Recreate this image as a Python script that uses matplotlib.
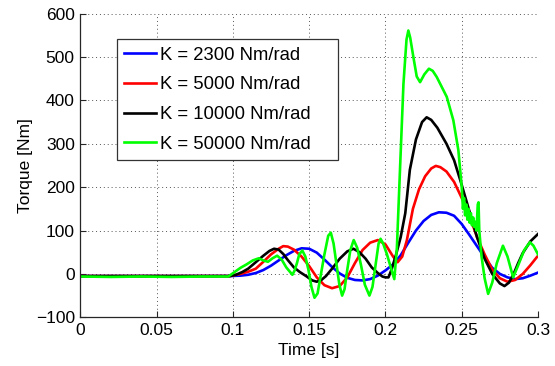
import matplotlib
matplotlib.use("Agg")
import matplotlib.pyplot as plt

# ---------------- data ----------------
t_k2300 = [0, 0.05, 0.098, 0.105, 0.11, 0.115, 0.12, 0.125, 0.13, 0.135, 0.14, 0.145,
           0.15, 0.155, 0.16, 0.165, 0.17, 0.175, 0.18, 0.185, 0.19, 0.195, 0.2, 0.205,
           0.21, 0.215, 0.22, 0.225, 0.23, 0.235, 0.24, 0.245, 0.25, 0.255, 0.26, 0.265,
           0.27, 0.275, 0.28, 0.285, 0.29, 0.295, 0.3]
v_k2300 = [-5, -5, -5, -4, -2, 2, 9, 19, 31, 43, 53, 59,
           58, 49, 33, 16, 1, -9, -14, -15, -12, -4, 8, 22,
           43, 72, 100, 122, 136, 142, 141, 134, 115, 90, 64, 38,
           14, 0, -8, -12, -10, -4, 3]

t_k5000 = [0, 0.05, 0.098, 0.105, 0.11, 0.115, 0.12, 0.125, 0.13, 0.133, 0.136, 0.14,
           0.145, 0.15, 0.155, 0.16, 0.165, 0.17, 0.175, 0.18, 0.185, 0.19, 0.195, 0.2,
           0.205, 0.208, 0.211, 0.214, 0.218, 0.222, 0.226, 0.23, 0.233, 0.236, 0.24,
           0.245, 0.25, 0.255, 0.26, 0.265, 0.27, 0.275, 0.28, 0.285, 0.29, 0.295, 0.3]
v_k5000 = [-5, -5, -5, 0, 5, 12, 28, 45, 58, 64, 63, 56,
           40, 18, -8, -26, -33, -28, -8, 25, 55, 72, 78, 68,
           40, 27, 40, 77, 150, 195, 225, 243, 249, 246, 236,
           212, 175, 135, 85, 45, 10, -10, -18, -14, 0, 20, 42]

t_k10000 = [0, 0.05, 0.098, 0.102, 0.106, 0.11, 0.116, 0.12, 0.124, 0.127, 0.13, 0.133,
            0.136, 0.14, 0.144, 0.148, 0.152, 0.155, 0.158, 0.161, 0.165, 0.17, 0.175,
            0.179, 0.183, 0.187, 0.191, 0.195, 0.198, 0.2, 0.202, 0.204, 0.207, 0.21,
            0.213, 0.216, 0.22, 0.224, 0.227, 0.23, 0.234, 0.24, 0.245, 0.25, 0.255,
            0.26, 0.265, 0.27, 0.275, 0.278, 0.281, 0.284, 0.287, 0.29, 0.295, 0.3]
v_k10000 = [-5, -5, -5, -2, 4, 12, 30, 42, 53, 58, 56, 46,
            32, 15, 4, -5, -15, -18, -14, -5, 12, 35, 52,
            58, 50, 35, 15, 2, -6, -8, -8, 10, 45, 85,
            140, 240, 310, 350, 361, 355, 337, 300, 262, 205, 145,
            85, 35, 0, -22, -28, -20, 0, 25, 48, 75, 92]

t_k50000 = [0, 0.02, 0.04, 0.06, 0.08, 0.097, 0.101, 0.105, 0.109, 0.113, 0.117, 0.12,
            0.123, 0.126, 0.129, 0.132, 0.135, 0.139, 0.1405, 0.142, 0.1435, 0.1455,
            0.1475, 0.1495, 0.1515, 0.1535, 0.1555, 0.1575, 0.16, 0.1625, 0.1642, 0.166,
            0.168, 0.1698, 0.1716, 0.1732, 0.175, 0.177, 0.1792, 0.1815, 0.184, 0.1865,
            0.1895, 0.1915, 0.1935, 0.1955, 0.1968, 0.1985, 0.2009, 0.2035, 0.2058,
            0.2075, 0.2096, 0.2118, 0.2138, 0.215, 0.2162, 0.2183, 0.2205, 0.2227,
            0.2255, 0.2285, 0.231, 0.2336, 0.2402, 0.2445, 0.2478, 0.25, 0.2508, 0.2515,
            0.2522, 0.253, 0.2537, 0.2545, 0.2552, 0.256, 0.2567, 0.2575, 0.2582, 0.259,
            0.2597, 0.2605, 0.261, 0.2615, 0.263, 0.265, 0.2673, 0.27, 0.273, 0.277,
            0.28, 0.2837, 0.287, 0.291, 0.2947, 0.297, 0.3]
v_k50000 = [-6, -7, -6, -7, -6, -6, 4, 14, 22, 31, 36, 31,
            28, 36, 42, 33, 15, -2, 8, 25, 45, 54,
            40, 10, -30, -55, -45, -5, 45, 88, 95, 70,
            20, -25, -50, -35, 10, 55, 78, 60, 20, -25,
            -50, -30, 20, 70, 81, 70, 46, 15, -12,
            60, 246, 438, 540, 561, 545, 500, 455, 442,
            460, 473, 468, 454, 408, 354, 285, 200, 150, 175,
            135, 160, 125, 150, 118, 140, 112, 130, 108, 120,
            100, 160, 165, 100, 40, -10, -46, -20, 25, 65,
            40, -8, 20, 55, 73, 65, 45]

labels = ["K = 2300 Nm/rad", "K = 5000 Nm/rad", "K = 10000 Nm/rad", "K = 50000 Nm/rad"]
colors = ["#0000ff", "#ff0000", "#000000", "#00ff00"]

x_ticks = [0, 0.05, 0.1, 0.15, 0.2, 0.25, 0.3]
x_ticklabels = ["0", "0.05", "0.1", "0.15", "0.2", "0.25", "0.3"]
y_ticks = [-100, 0, 100, 200, 300, 400, 500, 600]

# ---------------- plot ----------------
plt.rcParams['font.family'] = ['Liberation Sans', 'DejaVu Sans']

fig = plt.figure(figsize=(5.55, 3.66), dpi=100)
ax = fig.add_axes([0.1447, 0.1331, 0.8247, 0.8297])

series = [(t_k2300, v_k2300), (t_k5000, v_k5000), (t_k10000, v_k10000), (t_k50000, v_k50000)]
for (t, v), lab, c in zip(series, labels, colors):
    ax.plot(t, v, color=c, lw=1.9, label=lab, solid_joinstyle='round')

ax.set_xlim(0, 0.3)
ax.set_ylim(-100, 600)
ax.set_xticks(x_ticks)
ax.set_xticklabels(x_ticklabels)
ax.set_yticks(y_ticks)

ax.grid(True, color='#555555', linestyle=(0, (1, 3)), linewidth=0.7)
ax.set_axisbelow(True)
for s in ['top', 'right']:
    ax.spines[s].set_visible(False)
for s in ['left', 'bottom']:
    ax.spines[s].set_color('#262626')
    ax.spines[s].set_linewidth(0.9)

ax.tick_params(direction='in', length=4, width=0.8, labelsize=12.5, pad=4, colors='#262626')
for lbl in ax.get_xticklabels() + ax.get_yticklabels():
    lbl.set_color('black')

ax.set_xlabel("Time [s]", fontsize=12.5, labelpad=4)
ax.set_ylabel("Torque [Nm]", fontsize=12.5, labelpad=2)

leg = ax.legend(loc='upper left', bbox_to_anchor=(0.0795, 0.9154, 0.4835, 0.0),
                mode='expand', borderaxespad=0,
                fontsize=13.3, frameon=True, fancybox=False, handlelength=1.75,
                handletextpad=0.18, labelspacing=0.69, borderpad=0.4)
leg.get_frame().set_edgecolor('#333333')
leg.get_frame().set_linewidth(0.9)
leg.get_frame().set_alpha(1)

fig.savefig("out.png", dpi=100)
